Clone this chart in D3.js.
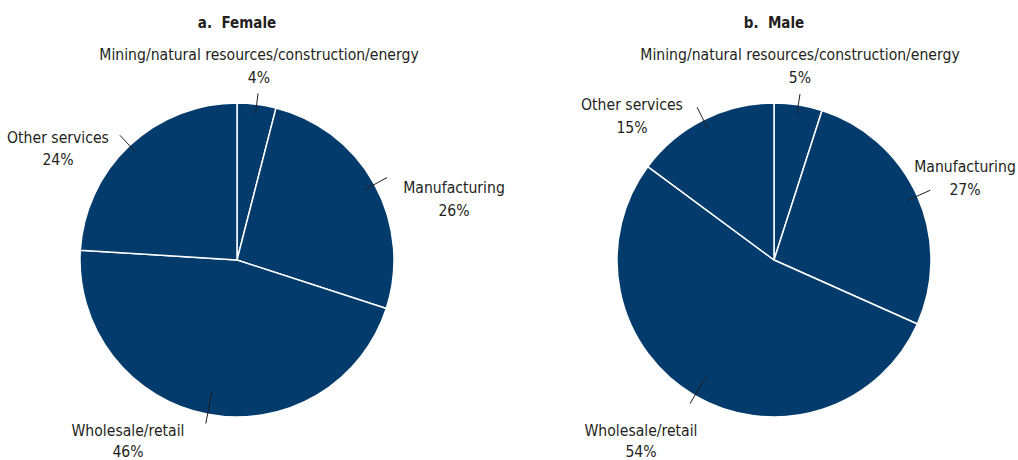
<!DOCTYPE html>
<html><head><meta charset="utf-8">
<script src="https://cdn.jsdelivr.net/npm/d3@7"></script>
<style>
body{margin:0;background:#fff}
text{font-family:"Liberation Sans Narrow","DejaVu Sans Condensed","Open Sans",sans-serif;fill:#231f20;white-space:pre}
</style></head><body>
<svg id="c" width="1018" height="460"></svg>
<script>
const categories = ["Mining/natural resources/construction/energy","Manufacturing","Wholesale/retail","Other services"];
const femaleValues = [4, 26, 46, 24];
const maleValues = [5, 27, 54, 15];
const panelTitles = ["a.  Female", "b.  Male"];

const svg = d3.select("#c");
const color = "#033b6c";
const R = 157;

const panels = [
  {title: panelTitles[0], values: femaleValues, cx: 237, cy: 260,
   labels: [[22,-205,-182],[217,-72,-49],[-109,171,192],[-179,-122,-100]],
   leaders: [[0.94,1.07],[0.93,1.09],[0.86,1.06],[0.94,1.09]]},
  {title: panelTitles[1], values: maleValues, cx: 774, cy: 260,
   labels: [[26,-205,-182],[191,-93,-70],[-133,171,192],[-142,-155,-132]],
   leaders: [[0.94,1.07],[0.93,1.09],[0.86,1.06],[0.94,1.09]]}
];

const pie = d3.pie().sort(null).value(d => d);
const arc = d3.arc().innerRadius(0).outerRadius(R);

panels.forEach(p => {
  const g = svg.append("g").attr("transform", `translate(${p.cx},${p.cy})`);
  const arcs = pie(p.values);
  g.selectAll("path").data(arcs).join("path")
    .attr("d", arc).attr("fill", color)
    .attr("stroke", "#fff").attr("stroke-width", 1.5).attr("stroke-linejoin","round");
  svg.append("text").attr("x", p.cx).attr("y", 23)
    .attr("text-anchor","middle").attr("dominant-baseline","central")
    .attr("font-weight","bold").attr("font-size", 15).text(p.title);
  arcs.forEach((a, i) => {
    const m = (a.startAngle + a.endAngle) / 2;
    const [r0, r1] = p.leaders[i];
    g.append("line")
      .attr("x1", Math.sin(m) * R * r0).attr("y1", -Math.cos(m) * R * r0)
      .attr("x2", Math.sin(m) * R * r1).attr("y2", -Math.cos(m) * R * r1)
      .attr("stroke", "#231f20").attr("stroke-width", 1);
    const [lx, ly1, ly2] = p.labels[i];
    g.append("text").attr("x", lx).attr("y", ly1)
      .attr("text-anchor","middle").attr("dominant-baseline","central")
      .attr("font-size", 15.6).text(categories[i]);
    g.append("text").attr("x", lx).attr("y", ly2)
      .attr("text-anchor","middle").attr("dominant-baseline","central")
      .attr("font-size", 15.6).text(p.values[i] + "%");
  });
});
</script></body></html>
